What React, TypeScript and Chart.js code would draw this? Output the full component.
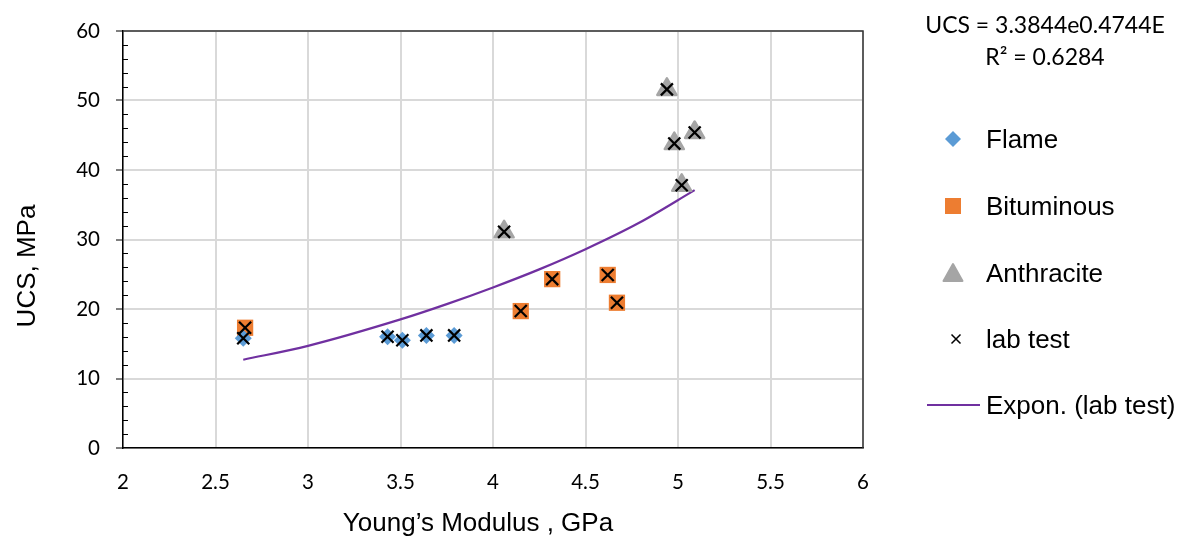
import React, { useEffect, useRef } from 'react';
import { Chart, registerables } from 'chart.js';

Chart.register(...registerables);

// ---- data ----
const seriesNames = ['Flame', 'Bituminous', 'Anthracite', 'lab test', 'Expon. (lab test)'];

const flameE = [2.65, 3.43, 3.51, 3.64, 3.79];
const flameUCS = [15.8, 16.0, 15.5, 16.2, 16.2];

const bitE = [2.66, 4.15, 4.32, 4.62, 4.67];
const bitUCS = [17.3, 19.7, 24.3, 24.9, 20.9];

const anthE = [4.06, 4.94, 4.98, 5.09, 5.02];
const anthUCS = [31.1, 51.6, 43.8, 45.4, 37.8];

// trend line
const trendE = [2.65, 3.0, 3.5, 3.75, 4.0, 4.25, 4.5, 4.79, 5.09];
const trendUCS = [12.7, 14.7, 18.5, 20.7, 23.1, 25.7, 28.6, 32.4, 37.1];

const xTickValues = [2, 2.5, 3, 3.5, 4, 4.5, 5, 5.5, 6];
const yTickValues = [0, 10, 20, 30, 40, 50, 60];

const xTitle = 'Young\u2019s Modulus , GPa';
const yTitle = 'UCS, MPa';
const equationLines = ['UCS = 3.3844e0.4744E', 'R\u00B2 = 0.6284'];

const COLORS = {
  flame: '#5b9bd5',
  bit: '#ed7d31',
  anth: '#a5a5a5',
  lab: '#000000',
  trend: '#7030a0',
};

const pts = (xs: number[], ys: number[]) => xs.map((x, i) => ({ x, y: ys[i] }));

const labE = [...flameE, ...bitE, ...anthE];
const labUCS = [...flameUCS, ...bitUCS, ...anthUCS];

const decorPlugin = {
  id: 'decor',
  beforeDatasetsDraw(chart: any) {
    chart.ctx.save();
    chart.ctx.lineJoin = 'round';
  },
  afterDatasetsDraw(chart: any) {
    chart.ctx.restore();
  },
  afterDraw(chart: any) {
    const ctx = chart.ctx as CanvasRenderingContext2D;
    const { left, right, top, bottom } = chart.chartArea;
    const yScale = chart.scales.y;
    ctx.save();

    // top and right frame
    ctx.strokeStyle = '#333333';
    ctx.lineWidth = 1.5;
    ctx.beginPath();
    ctx.moveTo(left, top);
    ctx.lineTo(right, top);
    ctx.lineTo(right, bottom);
    ctx.stroke();

    // minor ticks on the y axis (inside)
    ctx.strokeStyle = '#000';
    ctx.lineWidth = 1;
    for (let i = 0; i < yTickValues.length - 1; i++) {
      const a = yTickValues[i];
      const b = yTickValues[i + 1];
      for (let k = 1; k < 5; k++) {
        const v = a + ((b - a) * k) / 5;
        const py = Math.round(yScale.getPixelForValue(v)) + 0.5;
        ctx.beginPath();
        ctx.moveTo(left, py);
        ctx.lineTo(left + 5, py);
        ctx.stroke();
      }
    }

    // axis titles
    ctx.fillStyle = '#000';
    ctx.font = '26px "Liberation Sans", Arial, sans-serif';
    ctx.textAlign = 'center';
    ctx.textBaseline = 'alphabetic';
    ctx.fillText(xTitle, 478, 531);
    ctx.save();
    ctx.translate(35, 266);
    ctx.rotate(-Math.PI / 2);
    ctx.fillText(yTitle, 0, 0);
    ctx.restore();

    // trendline equation
    ctx.font = '23px Lato, "Liberation Sans", sans-serif';
    ctx.textAlign = 'center';
    ctx.fillText(equationLines[0], 1045, 33);
    ctx.fillText(equationLines[1], 1045, 65);

    // legend
    const rows = [139, 206, 273, 339, 405];
    const mx = 953;
    const tx = 986;
    ctx.textAlign = 'left';
    ctx.font = '26px "Liberation Sans", Arial, sans-serif';

    // Flame diamond
    ctx.fillStyle = COLORS.flame;
    ctx.beginPath();
    ctx.moveTo(mx, rows[0] - 8);
    ctx.lineTo(mx + 8, rows[0]);
    ctx.lineTo(mx, rows[0] + 8);
    ctx.lineTo(mx - 8, rows[0]);
    ctx.closePath();
    ctx.fill();

    // Bituminous square
    ctx.fillStyle = COLORS.bit;
    ctx.fillRect(mx - 8, rows[1] - 8, 16, 16);

    // Anthracite triangle
    ctx.fillStyle = COLORS.anth;
    ctx.strokeStyle = COLORS.anth;
    ctx.lineWidth = 2;
    ctx.lineJoin = 'round';
    ctx.beginPath();
    ctx.moveTo(mx, rows[2] - 9);
    ctx.lineTo(mx + 9.5, rows[2] + 8);
    ctx.lineTo(mx - 9.5, rows[2] + 8);
    ctx.closePath();
    ctx.fill();
    ctx.stroke();

    // lab test cross
    ctx.strokeStyle = COLORS.lab;
    ctx.lineWidth = 1.5;
    ctx.beginPath();
    ctx.moveTo(mx + 3 - 4.5, rows[3] - 4.5);
    ctx.lineTo(mx + 3 + 4.5, rows[3] + 4.5);
    ctx.moveTo(mx + 3 + 4.5, rows[3] - 4.5);
    ctx.lineTo(mx + 3 - 4.5, rows[3] + 4.5);
    ctx.stroke();

    // trend line sample
    ctx.strokeStyle = COLORS.trend;
    ctx.lineWidth = 2;
    ctx.beginPath();
    ctx.moveTo(927, rows[4]);
    ctx.lineTo(980, rows[4]);
    ctx.stroke();

    ctx.fillStyle = '#000';
    seriesNames.forEach((name, i) => {
      ctx.fillText(name, tx, rows[i] + 9);
    });

    ctx.restore();
  },
};

export default function App() {
  const ref = useRef<HTMLCanvasElement | null>(null);

  useEffect(() => {
    if (!ref.current) return;
    const tickFont = { family: 'Lato, "Liberation Sans", sans-serif', size: 20.5 };
    const chart = new Chart(ref.current, {
      type: 'scatter',
      data: {
        datasets: [
          {
            label: seriesNames[0],
            data: pts(flameE, flameUCS),
            pointStyle: 'rectRot',
            pointRadius: 8.5,
            backgroundColor: COLORS.flame,
            borderColor: COLORS.flame,
            borderWidth: 0,
            order: 1,
          },
          {
            label: seriesNames[1],
            data: pts(bitE, bitUCS),
            pointStyle: 'rect',
            pointRadius: 11.5,
            backgroundColor: COLORS.bit,
            borderColor: COLORS.bit,
            borderWidth: 0,
            order: 2,
          },
          {
            label: seriesNames[2],
            data: pts(anthE, anthUCS),
            pointStyle: 'triangle',
            pointRadius: 11,
            backgroundColor: COLORS.anth,
            borderColor: COLORS.anth,
            borderWidth: 2.5,
            order: 3,
          },
          {
            label: seriesNames[3],
            data: pts(labE, labUCS),
            pointStyle: 'crossRot',
            pointRadius: 8.5,
            backgroundColor: COLORS.lab,
            borderColor: COLORS.lab,
            borderWidth: 2.2,
            order: 0,
          },
          {
            label: seriesNames[4],
            data: pts(trendE, trendUCS),
            showLine: true,
            pointRadius: 0,
            borderColor: COLORS.trend,
            backgroundColor: COLORS.trend,
            borderWidth: 2.2,
            cubicInterpolationMode: 'monotone',
            order: 4,
          } as any,
        ],
      },
      options: {
        responsive: false,
        maintainAspectRatio: false,
        animation: false,
        layout: { padding: { top: 31, right: 323, bottom: 0, left: 0 } },
        plugins: {
          legend: { display: false },
          tooltip: { enabled: false },
          title: { display: false },
        },
        scales: {
          x: {
            type: 'linear',
            min: 2,
            max: 6,
            afterBuildTicks: (axis: any) => {
              axis.ticks = xTickValues.map((v) => ({ value: v }));
            },
            afterFit: (scale: any) => {
              scale.height = 91;
              scale.paddingLeft = 0;
              scale.paddingRight = 0;
            },
            ticks: {
              font: tickFont,
              color: '#000',
              padding: 22,
              maxRotation: 0,
              callback: (v: any) => String(v),
            },
            grid: { color: '#d9d9d9', lineWidth: 2, drawTicks: false },
            border: { display: true, color: '#000', width: 1.5 },
          },
          y: {
            type: 'linear',
            min: 0,
            max: 60,
            afterBuildTicks: (axis: any) => {
              axis.ticks = yTickValues.map((v) => ({ value: v }));
            },
            afterFit: (scale: any) => {
              scale.width = 123;
              scale.paddingTop = 0;
              scale.paddingBottom = 0;
            },
            ticks: {
              font: tickFont,
              color: '#000',
              padding: 16,
              callback: (v: any) => String(v),
            },
            grid: {
              color: '#d9d9d9',
              lineWidth: 2,
              drawTicks: true,
              tickLength: 7,
              tickColor: '#000',
              tickWidth: 1,
            },
            border: { display: true, color: '#000', width: 1.5 },
          },
        },
      },
      plugins: [decorPlugin],
    });
    return () => chart.destroy();
  }, []);

  return (
    <div style={{ position: 'absolute', left: 0, top: 0, width: 1186, height: 539, background: '#fff' }}>
      <canvas ref={ref} width={1186} height={539} style={{ display: 'block', width: 1186, height: 539 }} />
    </div>
  );
}
